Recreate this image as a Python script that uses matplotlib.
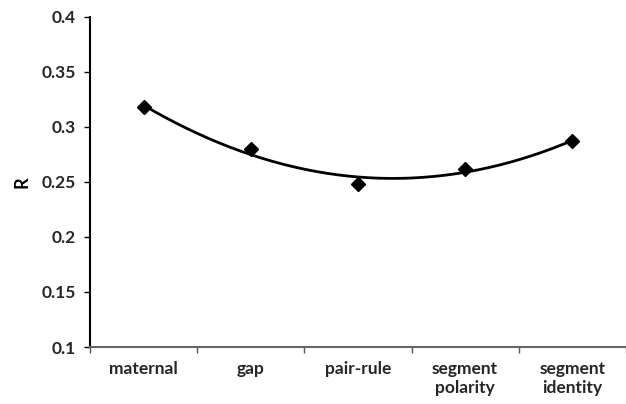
import numpy as np
import matplotlib
matplotlib.use("Agg")
import matplotlib.pyplot as plt

categories = ["maternal", "gap", "pair-rule", "segment\npolarity", "segment\nidentity"]
r_values = [0.318, 0.280, 0.248, 0.262, 0.287]
y_ticks = [0.1, 0.15, 0.2, 0.25, 0.3, 0.35, 0.4]
y_tick_labels = ["0.1", "0.15", "0.2", "0.25", "0.3", "0.35", "0.4"]

plt.rcParams["font.family"] = ["Lato", "DejaVu Sans"]

fig = plt.figure(figsize=(6.26, 4.04), dpi=100)
ax = fig.add_axes([0.1438, 0.141, 0.856, 0.8177])

x = np.arange(1, len(r_values) + 1)

# second-order polynomial trendline fitted to the points
coef = np.polyfit(x, r_values, 2)
xs = np.linspace(x[0], x[-1], 200)
ax.plot(xs, np.polyval(coef, xs), color="black", lw=2, zorder=2)
ax.plot(x, r_values, linestyle="none", marker="D", color="black",
        markersize=7, zorder=3)

ax.set_xlim(0.5, len(r_values) + 0.5)
ax.set_ylim(0.1, 0.4)
ax.set_yticks(y_ticks)
ax.set_yticklabels(y_tick_labels, fontsize=12.5, fontweight="bold", color="#262626")
ax.set_xticks(x)
ax.set_xticklabels(categories, fontsize=12.5, fontweight="bold", color="#262626",
                   linespacing=1.25)
ax.tick_params(axis="x", length=0, pad=10)
# category boundary tick marks
ax.set_xticks(np.arange(0.5, len(r_values) + 1, 1.0), minor=True)
ax.tick_params(axis="x", which="minor", length=4, width=1, color="#555555",
               direction="out")
ax.tick_params(axis="y", length=4, width=1, direction="out", pad=6)

ax.set_ylabel("R", fontsize=13, fontweight="bold", labelpad=8)

for side in ("top", "right"):
    ax.spines[side].set_visible(False)
ax.spines["left"].set_linewidth(1.5)
ax.spines["left"].set_color("black")
ax.spines["bottom"].set_linewidth(1.5)
ax.spines["bottom"].set_color("#666666")

fig.savefig("out.png", dpi=100)
